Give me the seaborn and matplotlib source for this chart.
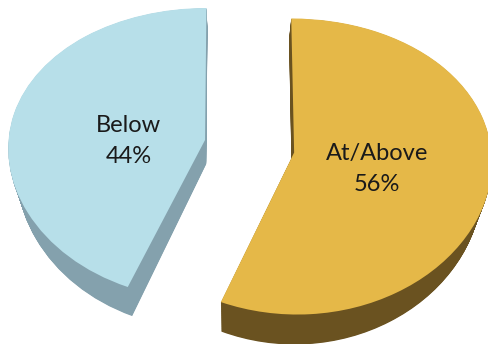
import matplotlib
matplotlib.use("Agg")
import matplotlib.pyplot as plt
from matplotlib.transforms import Transform
import seaborn as sns
import numpy as np

categories = ["Below", "At/Above"]
shares = [44, 56]
top_colors = ["#b7dfe9", "#e5b848"]
side_colors = ["#84a1ad", "#6a5220"]

sns.set_theme(style="white")
plt.rcParams["font.family"] = ["Lato", "DejaVu Sans"]


class Tilted(Transform):
    """View of the pie lying on a tilted plane, seen from above.

    z is the drop below the top face; lower layers sit farther from the
    viewer and shrink slightly toward the sight line at x = xc.
    """
    input_dims = output_dims = 2
    is_separable = False
    has_inverse = True

    def __init__(self, z=0.0, px=0.05, py=0.094, q=0.25, xc=-0.08):
        super().__init__()
        self.z, self.px, self.py, self.q, self.xc = z, px, py, q, xc

    def transform_non_affine(self, xy):
        xy = np.asarray(xy, dtype=float).reshape(-1, 2)
        x, y = xy[:, 0], xy[:, 1]
        sx = 1.0 / (1.0 + self.px * y + self.q * self.z)
        yy = y - self.z
        return np.column_stack([self.xc + (x - self.xc) * sx,
                                yy / (1.0 + self.py * yy)])

    def inverted(self):
        return _TiltedInv(self)


class _TiltedInv(Transform):
    input_dims = output_dims = 2
    is_separable = False
    has_inverse = True

    def __init__(self, fwd):
        super().__init__()
        self.f = fwd

    def transform_non_affine(self, uv):
        f = self.f
        uv = np.asarray(uv, dtype=float).reshape(-1, 2)
        yy = uv[:, 1] / (1.0 - f.py * uv[:, 1])
        y = yy + f.z
        sx = 1.0 / (1.0 + f.px * y + f.q * f.z)
        return np.column_stack([f.xc + (uv[:, 0] - f.xc) / sx, y])

    def inverted(self):
        return self.f


fig = plt.figure(figsize=(4.88, 3.44), dpi=100)
ax = fig.add_axes([0, 0, 1, 1])
ax.set_facecolor("white")

explode = [0.23, 0.23]
depth = 0.165
steps = 45

# extruded body of the pie: stacked layers, deepest first
for i in range(steps, 0, -1):
    layer = Tilted(z=depth * i / steps) + ax.transData
    body, _ = ax.pie(shares, colors=side_colors, startangle=90, counterclock=True,
                     explode=explode, radius=1.0,
                     wedgeprops=dict(linewidth=0), frame=False)
    for w in body:
        w.set_transform(layer)

top = Tilted(z=0.0) + ax.transData
wedges, _ = ax.pie(shares, colors=top_colors, startangle=90, counterclock=True,
                   explode=explode, radius=1.0,
                   wedgeprops=dict(linewidth=0), frame=False)
for w in wedges:
    w.set_transform(top)

label_pos = [(-0.613, 0.036), (0.641, -0.155)]
for (lx, ly), c, v in zip(label_pos, categories, shares):
    ax.text(lx, ly, f"{c}\n{v}%", ha="center", va="center", fontsize=17,
            color="#1a1a1a", linespacing=1.55, transform=top)

ax.set_aspect("auto")
ax.set_xlim(-1.2665, 1.2107)
ax.set_ylim(-1.359, 1.005)
ax.axis("off")

fig.savefig("out.png", dpi=100, facecolor="white")
